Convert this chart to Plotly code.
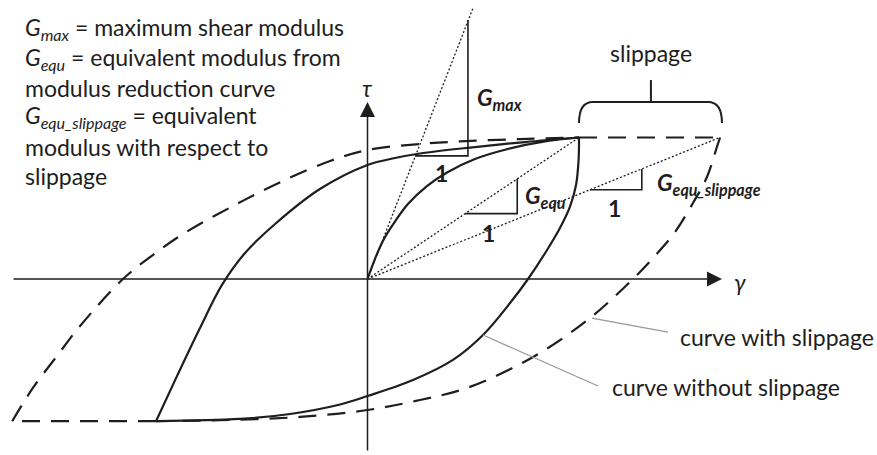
import plotly.graph_objects as go

# Hysteresis loop without slippage (normalised gamma / tau, peak = 1)
no_slip_up_g = [-1.0, -0.902, -0.792, -0.688, -0.579, -0.437, -0.225, 0.0, 0.130, 0.248, 0.485, 0.745, 1.0]
no_slip_up_t = [-1.005, -0.690, -0.346, -0.042, 0.184, 0.389, 0.636, 0.806, 0.855, 0.887, 0.929, 0.968, 1.0]
no_slip_down_g = [1.0, 0.998, 0.986, 0.957, 0.910, 0.849, 0.759, 0.674, 0.546, 0.404, 0.215, 0.0,
                  -0.130, -0.366, -0.603, -1.0]
no_slip_down_t = [1.0, 0.841, 0.664, 0.509, 0.360, 0.205, 0.0, -0.170, -0.396, -0.572, -0.714, -0.827,
                  -0.887, -0.954, -0.989, -1.005]

# Backbone curve (origin to peak)
backbone_g = [0.0, 0.035, 0.073, 0.116, 0.191, 0.281, 0.376, 0.508, 0.664, 0.839, 1.0]
backbone_t = [0.0, 0.141, 0.269, 0.375, 0.530, 0.657, 0.753, 0.848, 0.919, 0.972, 1.0]

# Hysteresis loop with slippage
slip_up_g = [-1.68, -1.582, -1.468, -1.359, -1.156, -1.028, -0.872, -0.636, -0.400, -0.177, 0.0, 0.248, 0.437, 0.721, 1.0]
slip_up_t = [-1.005, -0.770, -0.544, -0.332, 0.0, 0.155, 0.318, 0.516, 0.693, 0.834, 0.912, 0.954, 0.972, 0.989, 1.0]
slip_top_g = [1.0, 1.667]
slip_top_t = [1.0, 1.0]
slip_down_g = [1.667, 1.652, 1.605, 1.539, 1.454, 1.359, 1.255, 1.052, 0.783, 0.470, 0.248, 0.0, -0.319, -0.650, -1.0]
slip_down_t = [1.0, 0.933, 0.721, 0.537, 0.332, 0.163, 0.0, -0.276, -0.551, -0.770, -0.855, -0.926, -0.975, -0.996, -1.005]
slip_bottom_g = [-1.0, -1.68]
slip_bottom_t = [-1.005, -1.005]

# Secant / tangent lines from the origin
gmax_line_g = [0.0, 0.499]
gmax_line_t = [0.0, 1.915]
gequ_line_g = [0.0, 1.0]
gequ_line_t = [0.0, 1.0]
gslip_line_g = [0.0, 1.667]
gslip_line_t = [0.0, 1.0]

# Slope triangles
gmax_tri_g = [0.225, 0.475, 0.475]
gmax_tri_t = [0.870, 0.870, 1.83]
gequ_tri_g = [0.462, 0.708, 0.708]
gequ_tri_t = [0.462, 0.462, 0.708]
gslip_tri_g = [1.052, 1.297, 1.297]
gslip_tri_t = [0.631, 0.631, 0.778]

INK = "#1e1e1e"
FONT = "Lato"
FS = 23

fig = go.Figure()


def add_line(g, t, dash="solid", width=2.2, shape="spline", color=INK):
    fig.add_trace(
        go.Scatter(
            x=g, y=t, mode="lines",
            line={"color": color, "width": width, "dash": dash, "shape": shape},
            hoverinfo="skip",
        )
    )


# solid loop
add_line(no_slip_up_g, no_slip_up_t)
add_line(no_slip_down_g, no_slip_down_t)
add_line(backbone_g, backbone_t)

# dashed loop
DASH = "18px,11px"
add_line(slip_up_g, slip_up_t, dash=DASH)
add_line(slip_top_g, slip_top_t, dash=DASH, shape="linear")
add_line(slip_down_g, slip_down_t, dash=DASH)
add_line(slip_bottom_g, slip_bottom_t, dash=DASH, shape="linear")

# dotted secant lines
for g, t in [(gmax_line_g, gmax_line_t), (gequ_line_g, gequ_line_t), (gslip_line_g, gslip_line_t)]:
    add_line(g, t, dash="2px,2px", width=1.3, shape="linear")

# slope triangles
for g, t in [(gmax_tri_g, gmax_tri_t), (gequ_tri_g, gequ_tri_t), (gslip_tri_g, gslip_tri_t)]:
    add_line(g, t, width=1.6, shape="linear")

# leader lines
add_line([1.061, 1.421], [-0.276, -0.375], width=1.3, shape="linear", color="#999999")
add_line([0.546, 1.090], [-0.396, -0.756], width=1.3, shape="linear", color="#999999")

annotations = []

# axes with arrowheads
annotations.append(dict(x=1.676, y=0, ax=-1.681, ay=0, xref="x", yref="y", axref="x", ayref="y",
                        showarrow=True, arrowhead=2, arrowsize=2, arrowwidth=1.5, arrowcolor=INK, text=""))
annotations.append(dict(x=0, y=1.251, ax=0, ay=-1.223, xref="x", yref="y", axref="x", ayref="y",
                        showarrow=True, arrowhead=2, arrowsize=2, arrowwidth=1.5, arrowcolor=INK, text=""))


def label(x, y, text, anchor="left", size=FS):
    annotations.append(dict(x=x, y=y, xref="x", yref="y", text=text, showarrow=False,
                            xanchor=anchor, yanchor="middle",
                            font={"family": FONT, "size": size, "color": INK}))


label(0, 1.350, "<i>τ</i>", anchor="center")
label(1.761, -0.021, "<i>γ</i>", anchor="center")

# description block
desc = [
    "<i>G<sub>max</sub></i> = maximum shear modulus",
    "<i>G<sub>equ</sub></i> = equivalent modulus from",
    "modulus reduction curve",
    "<i>G<sub>equ_slippage</sub></i> = equivalent",
    "modulus with respect to",
    "slippage",
]
desc_y = [1.767, 1.555, 1.350, 1.145, 0.933, 0.728]
for txt, yy in zip(desc, desc_y):
    label(-1.629, yy, txt)

# slope labels
label(0.508, 1.279, "<b><i>G<sub>max</sub></i></b>")
label(0.352, 0.749, "<b>1</b>", anchor="center")
label(0.735, 0.580, "<b><i>G<sub>equ</sub></i></b>")
label(0.570, 0.325, "<b>1</b>", anchor="center")
label(1.359, 0.678, "<b><i>G<sub>equ_slippage</sub></i></b>")
label(1.170, 0.502, "<b>1</b>", anchor="center")

# curve labels
label(1.468, -0.410, "curve with slippage")
label(1.147, -0.763, "curve without slippage")
label(1.340, 1.597, "slippage", anchor="center")

# slippage bracket
bl, br = 1.0, 1.676
b_lo, b_hi = 1.102, 1.251
bracket = (f"M {bl},{b_lo} Q {bl},{b_hi} {bl + 0.066},{b_hi} L {br - 0.066},{b_hi} "
           f"Q {br},{b_hi} {br},{b_lo}")
shapes = [
    dict(type="path", path=bracket, xref="x", yref="y", line={"color": INK, "width": 2}),
    dict(type="line", x0=1.34, x1=1.34, y0=b_hi, y1=1.406, xref="x", yref="y",
         line={"color": INK, "width": 2}),
]

fig.update_layout(
    width=877, height=455,
    margin={"l": 0, "r": 0, "t": 0, "b": 0, "pad": 0},
    showlegend=False,
    plot_bgcolor="white", paper_bgcolor="white",
    xaxis={"visible": False, "range": [-1.7376, 2.409], "fixedrange": True},
    yaxis={"visible": False, "range": [-1.2438, 1.9717], "fixedrange": True},
    annotations=annotations,
    shapes=shapes,
)

fig.write_html("out.html", config={"displayModeBar": False},
               post_script="document.body.style.margin='0';")
